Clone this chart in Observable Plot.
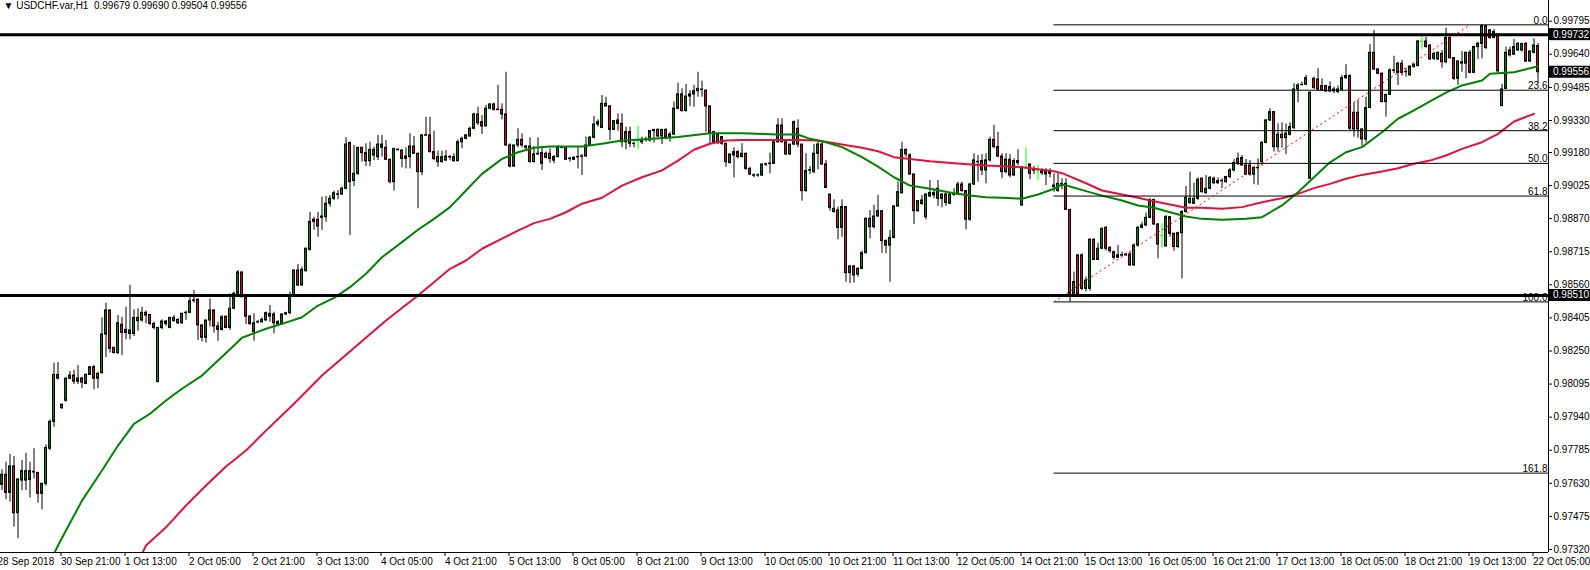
<!DOCTYPE html>
<html><head><meta charset="utf-8">
<script src="https://cdn.jsdelivr.net/npm/d3@7"></script>
<script src="https://cdn.jsdelivr.net/npm/@observablehq/plot@0.6"></script>
<style>body{margin:0;background:#fff}#chart{width:1590px;height:570px}</style>
</head><body><div id="chart"></div>
<script>
// USDCHF H1 bars, prices in points (x 1e-5)
const opens=[97623,97670,97585,97709,97490,97643,97643,97646,97681,97679,
97581,97628,97792,97918,98138,97982,98017,98120,98135,98106,
98121,98096,98138,98174,98120,98146,98327,98440,98265,98240,
98373,98349,98346,98330,98405,98393,98429,98419,98377,98104,
98358,98388,98358,98405,98396,98380,98427,98429,98485,98490,
98370,98312,98393,98440,98365,98349,98411,98358,98448,98518,
98618,98502,98411,98338,98384,98385,98393,98424,98421,98374,
98374,98421,98427,98510,98627,98557,98624,98724,98855,98865,
98874,98877,98940,98963,98982,98983,99010,99224,99046,99080,
99202,99177,99139,99192,99158,99217,99202,99146,99041,99191,
99189,99150,99158,99208,99174,99088,99259,99260,99182,99158,
99135,99142,99157,99158,99139,99228,99244,99255,99291,99358,
99322,99302,99385,99405,99379,99380,99358,99213,99114,99213,
99239,99202,99208,99135,99174,99177,99155,99174,99142,99158,
99201,99202,99149,99146,99157,99160,99161,99213,99249,99311,
99295,99408,99396,99286,99330,99314,99228,99275,99220,99236,
99228,99238,99236,99280,99286,99255,99286,99249,99264,99385,
99452,99374,99442,99452,99467,99473,99470,99396,99228,99264,
99252,99221,99130,99166,99182,99158,99174,99103,99071,99073,
99072,99123,99126,99127,99228,99306,99228,99171,99217,99291,
99217,98999,99095,99088,99174,99217,99124,98983,98901,98908,
98827,98924,98615,98646,98608,98635,98708,98869,98830,98880,
98905,98765,98744,98780,98927,98989,99192,99166,99077,98905,
98955,98877,98974,98990,98963,98963,98983,98940,98982,98983,
99030,98999,98865,99030,99134,99140,99096,99143,99239,99205,
99161,99088,99146,99072,99140,98932,99111,99124,99095,99093,
99093,99088,99080,99025,98999,99033,99033,98911,98518,98698,
98698,98541,98541,98771,98677,98729,98827,98733,98713,98687,
98697,98698,98702,98651,98744,98827,98838,98874,98958,98843,
98791,98740,98877,98799,98737,98802,98901,98943,98940,98963,
99057,98990,99010,99057,99036,99045,99041,99065,99096,99130,
99154,99119,99119,99076,99106,99135,99225,99330,99369,99205,
99263,99247,99263,99294,99475,99496,99497,99057,99525,99522,
99491,99491,99466,99466,99475,99475,99528,99538,99366,99366,
99288,99241,99388,99647,99569,99549,99416,99450,99563,99553,
99596,99556,99541,99580,99585,99700,99700,99681,99619,99616,
99642,99603,99716,99622,99525,99603,99596,99647,99553,99674,
99689,99772,99752,99744,99731,99397,99478,99658,99638,99658,
99658,99689,99606,99647,99679];
const highs=[97693,97729,97765,97756,97651,97737,97771,97729,97792,97681,
97630,97810,97927,98193,98196,98002,98127,98154,98159,98182,
98127,98143,98177,98182,98151,98405,98474,98443,98265,98416,
98408,98455,98557,98443,98448,98455,98437,98421,98385,98358,
98396,98393,98408,98416,98400,98427,98437,98505,98533,98494,
98370,98393,98494,98443,98385,98416,98411,98518,98526,98627,
98618,98505,98416,98424,98393,98405,98432,98463,98432,98393,
98424,98432,98526,98630,98655,98643,98733,98900,98877,98900,
98971,98974,98979,98999,99002,99018,99249,99229,99213,99202,
99202,99221,99228,99205,99260,99260,99236,99146,99197,99197,
99192,99202,99267,99255,99177,99264,99345,99345,99280,99186,
99186,99189,99166,99174,99239,99252,99264,99299,99364,99392,
99353,99400,99408,99411,99494,99408,99556,99221,99213,99291,
99267,99213,99249,99208,99249,99208,99182,99197,99166,99213,
99208,99208,99158,99161,99208,99171,99252,99255,99349,99333,
99447,99439,99400,99327,99361,99361,99299,99299,99228,99302,
99252,99252,99283,99286,99291,99286,99291,99275,99416,99505,
99478,99499,99470,99494,99556,99514,99470,99396,99280,99264,
99255,99221,99171,99202,99189,99221,99177,99111,99080,99080,
99124,99130,99177,99228,99338,99338,99228,99217,99327,99333,
99217,99174,99114,99217,99228,99224,99142,98983,98958,98924,
98958,98924,98651,98651,98640,98718,98874,98908,98932,98979,
98908,98771,98815,98932,99041,99228,99197,99174,99077,98955,
98979,98986,99049,99010,99049,98986,98990,98990,99010,99041,
99041,98999,99036,99174,99166,99171,99174,99252,99307,99275,
99174,99174,99171,99150,99193,99111,99202,99124,99115,99119,
99104,99104,99104,99080,99080,99057,99057,98911,98620,98698,
98705,98596,98776,98776,98755,98827,98833,98739,98718,98744,
98713,98708,98713,98752,98833,98853,98896,98963,98958,98846,
98846,98885,98880,98802,98807,98908,99021,99088,99036,99061,
99061,99072,99068,99065,99061,99057,99068,99104,99146,99177,
99166,99147,99143,99116,99150,99232,99335,99385,99372,99314,
99319,99314,99319,99502,99502,99510,99541,99463,99533,99572,
99525,99494,99510,99486,99491,99541,99591,99544,99413,99424,
99291,99439,99685,99752,99572,99553,99450,99572,99631,99603,
99611,99575,99588,99596,99705,99725,99720,99684,99650,99650,
99658,99763,99725,99622,99611,99653,99650,99658,99678,99697,
99778,99775,99756,99756,99736,99500,99674,99674,99710,99694,
99689,99694,99658,99713,99690];
const lows=[97596,97553,97542,97425,97370,97596,97596,97561,97651,97537,
97506,97617,97784,97893,98115,97976,98010,98116,98093,98093,
98073,98093,98135,98068,98073,98143,98218,98240,98237,98234,
98229,98302,98302,98318,98343,98385,98377,98369,98349,98104,
98349,98365,98354,98385,98374,98374,98393,98424,98474,98299,
98292,98287,98362,98334,98296,98343,98354,98346,98443,98515,
98499,98374,98369,98296,98377,98380,98390,98385,98330,98369,
98374,98416,98421,98505,98552,98552,98619,98718,98815,98783,
98815,98853,98924,98955,98958,98979,99005,98791,99021,99072,
99135,99114,99114,99142,99142,99158,99142,99033,99000,99186,
99108,99103,99103,99171,98916,99072,99255,99177,99142,99111,
99130,99139,99142,99135,99139,99197,99239,99252,99286,99306,
99264,99302,99380,99374,99374,99333,99208,99108,99111,99202,
99202,99192,99130,99130,99166,99096,99150,99130,99127,99158,
99197,99146,99135,99142,99103,99072,99158,99208,99244,99299,
99291,99392,99236,99283,99280,99202,99192,99202,99202,99192,
99217,99228,99228,99224,99249,99217,99239,99228,99260,99380,
99369,99369,99395,99392,99439,99439,99275,99221,99217,99217,
99213,99111,99127,99061,99150,99155,99096,99072,99061,99064,
99068,99114,99080,99124,99224,99224,99166,99166,99213,99202,
98952,98994,99077,99080,99099,99119,99010,98905,98896,98771,
98783,98572,98565,98568,98596,98630,98705,98776,98822,98877,
98708,98705,98572,98775,98924,98986,99158,99072,98843,98900,
98932,98864,98968,98963,98927,98921,98927,98936,98974,98979,
98994,98818,98858,99025,99041,99072,99033,99135,99197,99155,
99057,99080,99061,99068,99119,98927,99103,99052,99077,99049,
99072,99025,99061,98994,98994,99005,98911,98479,98510,98510,
98533,98526,98530,98674,98674,98724,98718,98708,98677,98682,
98690,98693,98646,98646,98739,98822,98833,98869,98838,98682,
98733,98737,98783,98718,98729,98588,98896,98937,98937,98955,
98990,98983,99005,99030,99030,99010,99036,99057,99088,99119,
99116,99072,99069,99029,99026,99116,99221,99325,99182,99182,
99200,99169,99257,99288,99413,99491,99494,99054,99475,99466,
99466,99460,99460,99455,99455,99466,99522,99283,99252,99247,
99210,99225,99385,99564,99544,99413,99346,99447,99549,99494,
99538,99533,99538,99575,99580,99663,99669,99611,99611,99611,
99575,99596,99616,99517,99494,99556,99525,99549,99549,99616,
99619,99663,99710,99713,99553,99397,99475,99627,99635,99653,
99650,99603,99603,99642,99504];
const closes=[97670,97585,97709,97490,97648,97687,97687,97687,97684,97581,
97628,97796,97918,98138,98120,97998,98120,98135,98106,98121,
98102,98138,98174,98120,98143,98327,98440,98260,98240,98380,
98335,98335,98330,98405,98390,98429,98416,98377,98358,98358,
98388,98377,98405,98390,98380,98424,98429,98483,98487,98370,
98312,98393,98440,98365,98349,98408,98358,98448,98518,98618,
98502,98411,98377,98380,98386,98396,98427,98411,98380,98385,
98421,98427,98510,98627,98557,98630,98729,98855,98865,98833,
98880,98940,98963,98989,98984,99010,99217,99041,99080,99202,
99177,99139,99192,99166,99217,99202,99146,99041,99197,99193,
99150,99161,99208,99174,99088,99260,99261,99182,99149,99135,
99158,99161,99159,99139,99228,99244,99260,99291,99358,99317,
99302,99385,99405,99380,99381,99358,99213,99114,99213,99239,
99213,99208,99135,99171,99171,99127,99174,99150,99158,99202,
99203,99146,99151,99155,99159,99162,99213,99249,99311,99322,
99408,99396,99286,99327,99314,99228,99275,99221,99221,99236,
99239,99240,99280,99286,99255,99286,99249,99264,99385,99452,
99374,99442,99452,99467,99478,99475,99396,99271,99275,99224,
99221,99135,99171,99182,99158,99174,99103,99077,99073,99072,
99124,99125,99128,99228,99306,99228,99171,99217,99322,99217,
98999,99093,99097,99174,99217,99124,99014,98921,98916,98827,
98924,98615,98646,98604,98635,98708,98869,98830,98880,98905,
98765,98744,98780,98927,98994,99192,99171,99077,98905,98952,
98939,98983,98990,98979,99010,98983,98943,98983,98984,99030,
98999,98865,99030,99143,99136,99096,99143,99239,99205,99161,
99088,99146,99072,99140,99130,99111,99111,99080,99097,99093,
99083,99077,99093,99018,99033,99025,98911,98518,98573,98515,
98541,98580,98771,98677,98729,98822,98729,98718,98687,98698,
98699,98702,98651,98744,98827,98838,98874,98958,98843,98749,
98791,98877,98799,98737,98802,98901,98968,98963,98963,99052,
98994,99010,99061,99036,99046,99047,99065,99096,99130,99150,
99119,99076,99076,99107,99108,99225,99330,99369,99205,99263,
99247,99268,99299,99475,99494,99497,99528,99460,99482,99475,
99471,99466,99486,99475,99463,99528,99538,99291,99288,99288,
99241,99388,99647,99569,99549,99416,99450,99564,99565,99596,
99553,99558,99580,99591,99700,99700,99674,99616,99642,99647,
99603,99716,99622,99525,99606,99596,99647,99553,99674,99689,
99772,99669,99716,99716,99560,99475,99647,99635,99674,99689,
99689,99606,99653,99681,99556];

// Moving averages: [bar index, price points]
const maFast=[[13,97300],[14,97339],[16,97409],[20,97549],[25,97690],[29,97807],[33,97909],[37,97956],[41,98018],[45,98073],[50,98135],[54,98205],[58,98276],[60,98312],[66,98354],[70,98377],[75,98408],[79,98463],[83,98499],[87,98549],[91,98612],[95,98689],[100,98760],[104,98818],[108,98869],[112,98924],[116,99002],[120,99080],[125,99150],[129,99181],[133,99202],[137,99208],[145,99208],[150,99221],[155,99236],[160,99241],[169,99252],[177,99270],[185,99270],[194,99264],[199,99264],[202,99244],[206,99228],[210,99205],[215,99158],[219,99114],[223,99064],[227,99025],[232,99010],[238,98989],[242,98978],[246,98970],[250,98968],[255,98963],[259,98983],[263,99010],[265,99030],[267,99021],[271,98999],[275,98978],[280,98955],[284,98932],[288,98921],[292,98900],[296,98880],[300,98869],[305,98865],[311,98869],[315,98877],[320,98932],[324,98994],[328,99064],[332,99134],[336,99181],[340,99205],[345,99275],[349,99338],[353,99377],[357,99419],[361,99460],[365,99494],[370,99517],[372,99549],[378,99556],[384,99584]];
const maSlow=[[35,97300],[36,97339],[41,97424],[46,97526],[51,97620],[56,97709],[61,97784],[66,97877],[73,98003],[80,98135],[96,98393],[104,98510],[108,98572],[112,98635],[116,98674],[120,98729],[125,98776],[129,98814],[133,98849],[137,98869],[141,98900],[145,98940],[150,98968],[155,99025],[160,99064],[165,99096],[169,99142],[173,99193],[177,99221],[181,99236],[185,99239],[199,99239],[204,99236],[210,99217],[215,99202],[219,99186],[223,99158],[227,99150],[232,99139],[238,99130],[246,99119],[255,99111],[263,99092],[265,99083],[271,99036],[275,99002],[280,98983],[284,98968],[288,98952],[292,98936],[296,98921],[300,98921],[305,98916],[310,98924],[315,98947],[320,98966],[324,98986],[328,99013],[332,99033],[336,99057],[340,99075],[345,99091],[349,99106],[353,99127],[357,99142],[361,99166],[365,99197],[370,99228],[374,99267],[378,99325],[383,99361]];

const hLevels=[0.99732,0.98510];
const fibHigh=0.99778, fibLow=0.98480, fibStartBar=263, fibEndBar=367;
const fibLevels=[0,23.6,38.2,50,61.8,100,161.8];
const fibLabels=["0.0","23.6","38.2","50.0","61.8","100.0","161.8"];
const yTicks=[0.99795,0.99640,0.99485,0.99330,0.99180,0.99025,0.98870,0.98715,0.98560,0.98405,0.98250,0.98095,0.97940,0.97785,0.97630,0.97475,0.97320];
const xTickBars=[15,31,47,63,79,95,111,127,143,159,175,191,207,223,239,255,271,287,303,319,335,351,367,383];
const xTickLabels=["30 Sep 21:00","1 Oct 13:00","2 Oct 05:00","2 Oct 21:00","3 Oct 13:00","4 Oct 05:00","4 Oct 21:00","5 Oct 13:00","8 Oct 05:00","8 Oct 21:00","9 Oct 13:00","10 Oct 05:00","10 Oct 21:00","11 Oct 13:00","12 Oct 05:00","14 Oct 21:00","15 Oct 13:00","16 Oct 05:00","16 Oct 21:00","17 Oct 13:00","18 Oct 05:00","18 Oct 21:00","19 Oct 13:00","22 Oct 05:00"];
const firstLabel="28 Sep 2018";
const highlightLabels=[0.99732,0.99556,0.98510];
const title="USDCHF.var,H1  0.99679 0.99690 0.99504 0.99556";

const P=1e5;
const bars=opens.map((o,i)=>{
  const O=o/P,H=highs[i]/P,L=lows[i]/P,C=closes[i]/P;
  return {i,o:O,h:Math.max(H,O,C),l:Math.min(L,O,C),c:C,
    dir:C>O?"up":C<O?"down":"flat"};
});
const fib=fibLevels.map((l,k)=>({v:fibHigh-(fibHigh-fibLow)*l/100,label:fibLabels[k]}));
const fastPts=maFast.map(([i,v])=>({i,v:v/P}));
const slowPts=maSlow.map(([i,v])=>({i,v:v/P}));
const xMin=-0.375,xMax=386.625;
const labMap=new Map(xTickBars.map((b,k)=>[b,xTickLabels[k]]));
const FONT="'Liberation Sans', Arial, sans-serif";

const plot=Plot.plot({
  width:1590,height:570,
  marginLeft:0,marginRight:42,marginTop:0,marginBottom:18,
  x:{domain:[xMin,xMax],axis:null},
  y:{domain:[0.97306,0.99892],axis:null},
  color:{type:"identity"},
  style:{fontFamily:FONT,fontSize:"10px",background:"#fff",color:"#000",overflow:"visible"},
  marks:[
    Plot.ruleX(bars,{x:"i",y1:"l",y2:"h",stroke:d=>d.dir==="flat"?"#00ff00":"#000",strokeWidth:1}),
    Plot.rect(bars.filter(d=>d.dir!=="flat"),{x1:d=>d.i-0.25,x2:d=>d.i+0.25,y1:"o",y2:"c",
      fill:d=>d.dir==="up"?"#008000":"#c8102e",stroke:"#000",strokeWidth:1}),
    Plot.ruleY(bars.filter(d=>d.dir==="flat"),{y:"o",x1:d=>d.i-0.4,x2:d=>d.i+0.4,stroke:"#00ff00"}),
    Plot.line(slowPts,{x:"i",y:"v",stroke:"#dc143c",strokeWidth:2,clip:true}),
    Plot.line(fastPts,{x:"i",y:"v",stroke:"#008000",strokeWidth:2,clip:true}),
    Plot.ruleY(fib,{y:"v",x1:fibStartBar,x2:xMax,stroke:"#000",strokeWidth:1}),
    Plot.link([{x1:fibStartBar,y1:fibLow,x2:fibEndBar,y2:fibHigh}],{x1:"x1",y1:"y1",x2:"x2",y2:"y2",stroke:"#ff0000",strokeWidth:1,strokeDasharray:"2,3"}),
    Plot.ruleY(hLevels,{stroke:"#000",strokeWidth:3}),
    Plot.text(fib,{x:xMax,y:"v",text:"label",textAnchor:"end",lineAnchor:"bottom",dx:-1,dy:-1,fill:"#000",fontSize:10}),
    Plot.ruleX([xMax],{stroke:"#000",strokeWidth:1}),
    Plot.ruleY([0.97306],{stroke:"#000",strokeWidth:1}),
    Plot.axisY(yTicks,{anchor:"right",tickSize:3,tickPadding:2,tickFormat:d=>d.toFixed(5),fontSize:10}),
    Plot.axisX(xTickBars,{anchor:"bottom",tickSize:4,tickPadding:1,tickFormat:d=>labMap.get(d),textAnchor:"start",dx:-1,fontSize:10}),
    Plot.text([firstLabel],{frameAnchor:"bottom-left",lineAnchor:"top",textAnchor:"start",dx:-3,dy:5,fontSize:10}),
    Plot.text(["\u25BC "+title],{frameAnchor:"top-left",lineAnchor:"top",textAnchor:"start",dx:3,dy:1,fontSize:10})
  ]
});
document.getElementById("chart").appendChild(plot);

// highlighted price labels on the right axis
const ys=plot.scale("y"), xs=plot.scale("x");
const svg=d3.select(plot);
const xr=xs.apply(xMax);
highlightLabels.forEach(v=>{
  const y=ys.apply(v);
  svg.append("rect").attr("x",xr+1).attr("y",y-6).attr("width",41).attr("height",12).attr("fill","#000");
  svg.append("text").attr("x",xr+5).attr("y",y).attr("dy","0.35em").attr("fill","#fff")
    .attr("text-anchor","start").attr("font-family",FONT).attr("font-size",10).text(v.toFixed(5));
});
</script>
</body></html>
